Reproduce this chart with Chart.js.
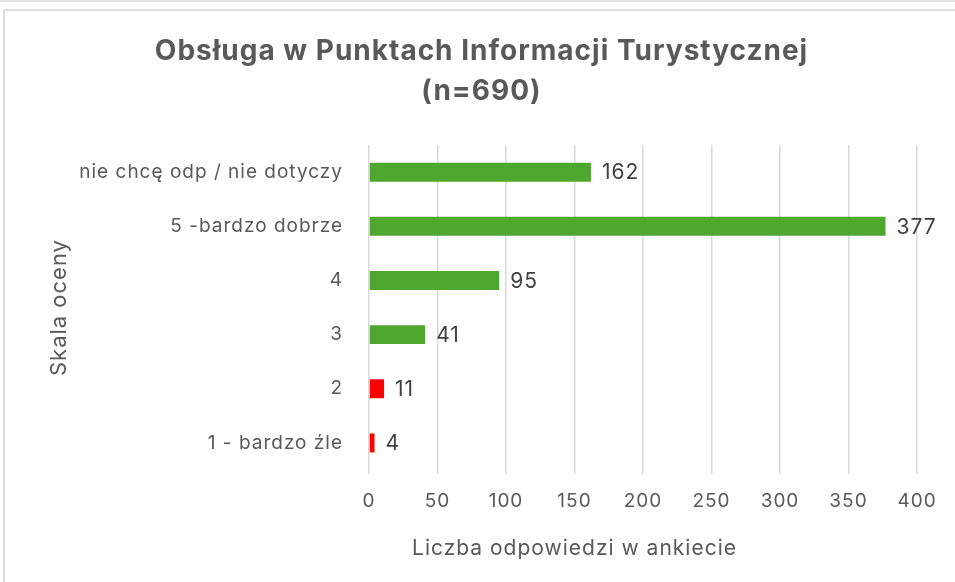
<!DOCTYPE html>
<html>
<head>
<meta charset="utf-8">
<script src="https://cdn.jsdelivr.net/npm/chart.js@4"></script>
<style>
  html, body { margin: 0; padding: 0; background: #fff; }
  body { width: 955px; height: 582px; overflow: hidden; position: relative; }
  #topLine { position: absolute; left: 0; top: 0; width: 955px; height: 2px; background: #e3e3e3; }
  #frame { position: absolute; left: 3px; top: 9px; width: 960px; height: 580px;
           border-left: 2px solid #dcdcdc; border-top: 2px solid #dcdcdc; }
  #wrap { position: absolute; left: 0; top: 0; width: 955px; height: 582px; }
</style>
</head>
<body>
<div id="topLine"></div>
<div id="frame"></div>
<div id="wrap"><canvas id="chart"></canvas></div>
<script>
const categories = [
  "nie chcę odp / nie dotyczy",
  "5 -bardzo dobrze",
  "4",
  "3",
  "2",
  "1 - bardzo źle",
];
const responses = [162, 377, 95, 41, 11, 4];
const barColors = ["#4ea72e", "#4ea72e", "#4ea72e", "#4ea72e", "#ff0000", "#ff0000"];
const titleLines = ["Obsługa w Punktach Informacji Turystycznej", "(n=690)"];
const xTitle = "Liczba odpowiedzi w ankiecie";
const yTitle = "Skala oceny";

document.addEventListener("DOMContentLoaded", () => {
  drawChart();
});

function drawChart() {
  const ctx = document.getElementById("chart").getContext("2d");
  const fontFamily = "Inter, 'Liberation Sans', sans-serif";

  // the original font is a bit wider, so open up the letters a little
  const spacing = {
    id: "spacing",
    beforeUpdate(chart) {
      chart.ctx.letterSpacing = "1px";
    },
    beforeDraw(chart) {
      chart.ctx.letterSpacing = "1px";
    },
  };

  // Value labels next to each bar + x axis title (sits left of centre in the original)
  const extraText = {
    id: "extraText",
    afterDatasetsDraw(chart) {
      const c = chart.ctx;
      const meta = chart.getDatasetMeta(0);
      c.save();
      c.font = "21px " + fontFamily;
      c.fillStyle = "#404040";
      c.textAlign = "left";
      c.textBaseline = "middle";
      meta.data.forEach((bar, i) => {
        c.fillText(String(responses[i]), bar.x + 11, bar.y + 1);
      });

      const xs = chart.scales.x;
      c.font = "21px " + fontFamily;
      c.fillStyle = "#595959";
      c.textAlign = "center";
      c.fillText(xTitle, xs.getPixelForValue(150), xs.bottom - 33);
      c.restore();
    },
  };

  new Chart(ctx, {
    type: "bar",
    data: {
      labels: categories,
      datasets: [
        {
          data: responses,
          backgroundColor: barColors,
          borderWidth: 0,
          categoryPercentage: 1,
          barPercentage: 0.35,
        },
      ],
    },
    options: {
      indexAxis: "y",
      responsive: true,
      maintainAspectRatio: false,
      animation: false,
      layout: { padding: { left: 46, right: 38, top: 20, bottom: 0 } },
      scales: {
        x: {
          min: 0,
          max: 400,
          ticks: {
            stepSize: 50,
            color: "#595959",
            font: { size: 19, family: fontFamily },
            padding: 16,
          },
          grid: { color: "#d9d9d9", lineWidth: 1.5, tickLength: 4 },
          border: { display: false },
          afterFit(scale) {
            scale.height = 112;
          },
        },
        y: {
          ticks: {
            color: "#595959",
            font: { size: 19, family: fontFamily },
            padding: 18,
          },
          grid: { display: false },
          border: { display: false },
          title: {
            display: true,
            text: yTitle,
            color: "#595959",
            font: { size: 22, family: fontFamily },
            padding: 0,
          },
          afterFit(scale) {
            scale.width = 323;
          },
        },
      },
      plugins: {
        legend: { display: false },
        tooltip: { enabled: false },
        title: {
          display: true,
          text: titleLines,
          color: "#595959",
          font: { size: 28, weight: "bold", family: fontFamily, lineHeight: 1.43 },
          padding: { top: 12, bottom: 33 },
        },
      },
    },
    plugins: [spacing, extraText],
  });
}
</script>
</body>
</html>
